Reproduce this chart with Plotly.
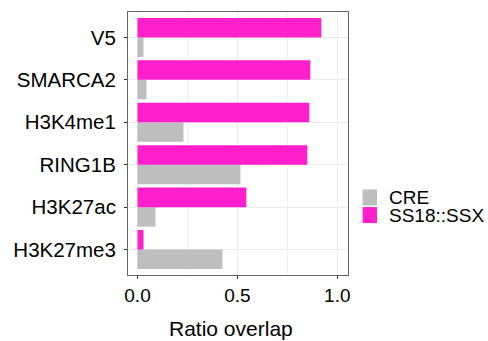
import plotly.graph_objects as go

categories = ["H3K27me3", "H3K27ac", "RING1B", "H3K4me1", "SMARCA2", "V5"]
cre_values = [0.425, 0.09, 0.515, 0.23, 0.045, 0.03]
ss18_values = [0.03, 0.545, 0.85, 0.86, 0.865, 0.92]
x_ticks = [0.0, 0.5, 1.0]
x_tick_labels = ["0.0", "0.5", "1.0"]
series_names = ["CRE", "SS18::SSX"]
series_colors = ["#BEBEBE", "#FF1FCB"]

FONT = "Liberation Sans, Arial, Helvetica, sans-serif"

# plot-area geometry (pixels)
L, R, T, B = 127.5, 347.7, 11.7, 275.0
W, H = 488, 341
PW, PH = R - L, B - T


def px_x(px):
    return (px - L) / PW


def px_y(py):
    return (B - py) / PH


fig = go.Figure()
for name, vals, col in zip(series_names, [cre_values, ss18_values], series_colors):
    fig.add_trace(go.Bar(y=categories, x=vals, orientation="h", name=name,
                         marker=dict(color=col, line=dict(width=0)), showlegend=False))

# manual legend (keys + labels)
key_tops = [189.3, 207.0]
for i, (name, col) in enumerate(zip(series_names, series_colors)):
    y0 = key_tops[i]
    fig.add_shape(type="rect", xref="paper", yref="paper",
                  x0=px_x(362.3), x1=px_x(376.7), y0=px_y(y0 + 16), y1=px_y(y0),
                  fillcolor=col, line=dict(width=0), layer="above")
    fig.add_annotation(xref="paper", yref="paper", x=px_x(387.5), y=px_y(y0 + 8.5),
                       text=name, showarrow=False, xanchor="left", yanchor="middle",
                       height=17, valign="middle", borderpad=0,
                       font=dict(size=19, color="black", family=FONT))

# x-axis title
fig.add_annotation(xref="paper", yref="paper", x=px_x(230.8), y=px_y(329.0),
                   text="Ratio overlap", showarrow=False, xanchor="center", yanchor="middle",
                   font=dict(size=21, color="black", family=FONT))

fig.update_layout(
    width=W, height=H,
    margin=dict(l=L, r=W - R, t=T, b=H - B, autoexpand=False),
    paper_bgcolor="white", plot_bgcolor="white",
    barmode="group", bargap=0.08, bargroupgap=0,
    font=dict(family=FONT, size=19, color="black"),
    showlegend=False,
    xaxis=dict(range=[-0.0475, 1.0535], tickvals=x_ticks, ticktext=x_tick_labels,
               showgrid=True, gridcolor="#EBEBEB", gridwidth=1, zeroline=False,
               minor=dict(dtick=0.25, tick0=0, showgrid=True, gridcolor="#F2F2F2", gridwidth=1, ticks=""),
               ticks="outside", ticklen=3, tickcolor="#333333", tickwidth=1,
               showline=True, mirror=True, linecolor="#666666", linewidth=1,
               tickfont=dict(size=19, color="black")),
    yaxis=dict(type="category", categoryorder="array", categoryarray=categories,
               range=[-0.6, 5.6], showgrid=True, gridcolor="#EBEBEB", gridwidth=1,
               zeroline=False, ticks="outside", ticklen=3, tickcolor="#333333", tickwidth=1,
               showline=True, mirror=True, linecolor="#666666", linewidth=1,
               ticklabelstandoff=4,
               tickfont=dict(size=20.5, color="black")),
)

fig.write_html("out.html")
